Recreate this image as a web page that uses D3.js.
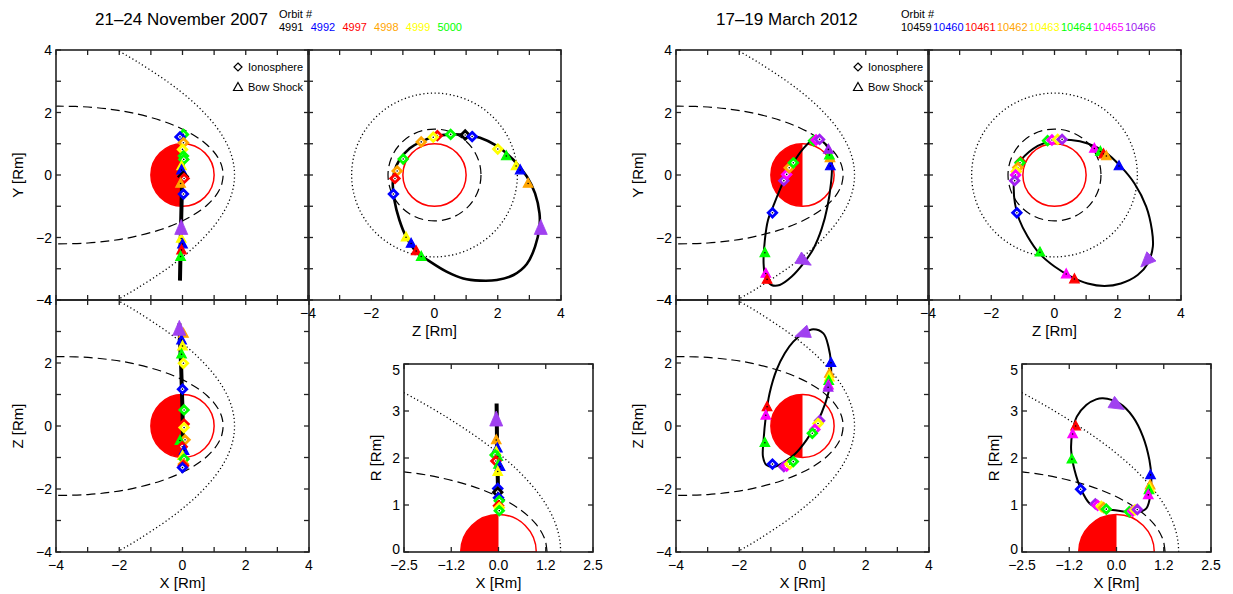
<!DOCTYPE html>
<html>
<head>
<meta charset="utf-8">
<script src="https://cdn.jsdelivr.net/npm/d3@7"></script>
<style>
  body { margin: 0; background: #fff; }
  text { font-family: "Liberation Sans", Arial, sans-serif; fill: #000; }
</style>
</head>
<body>
<svg id="chart" width="1233" height="594"></svg>
<script>
// colour codes used by the orbit legend and the crossing markers
var colorOf = { k: '#000000', b: '#0000ff', r: '#ff0000', o: '#ffa500', y: '#ffff00',
                g: '#00ff00', m: '#ff00ff', p: '#a020f0' };
var arrowColor = '#a040f0';

var titles = ['21\u201324 November 2007', '17\u201319 March 2012'];
var orbits2007 = ['4991', '4992', '4997', '4998', '4999', '5000'];
var orbitColors2007 = ['k', 'b', 'r', 'o', 'y', 'g'];
var orbits2012 = ['10459', '10460', '10461', '10462', '10463', '10464', '10465', '10466'];
var orbitColors2012 = ['k', 'b', 'r', 'o', 'y', 'g', 'm', 'p'];

// model boundaries, [x, rho] in Rm (dotted = bow shock, dashed = MPB)
var bowShock = [[1.645, 0], [1.628, 0.265], [1.574, 0.539], [1.475, 0.835], [1.313, 1.166],
  [1.057, 1.556], [0.640, 2.040], [0.209, 2.446], [-0.437, 2.960], [-1.463, 3.643],
  [-2.219, 4.084], [-2.590, 4.286]];
var mpb = [[1.285, 0], [1.247, 0.270], [1.195, 0.415], [1.111, 0.573], [0.982, 0.752],
  [0.780, 0.960], [0.583, 1.121], [0.306, 1.303], [-0.093, 1.512], [-0.684, 1.745],
  [-1.588, 1.987], [-2.212, 2.095], [-2.989, 2.176], [-3.941, 2.201], [-4.373, 2.187]];
// radius of each boundary in the terminator plane (YZ panels)
var bowShockTerminator = 2.62;
var mpbTerminator = 1.47;

var squareTicks = [-4, -3, -2, -1, 0, 1, 2, 3, 4];
var squareLabels = [-4, -2, 0, 2, 4];
var xrTicks = [-2.5, -1.25, 0, 1.25, 2.5];
var xrTickLabels = ['\u22122.5', '\u22121.2', '0.0', '1.2', '2.5'];
var rTicks = [0, 1.25, 2.5, 3.75, 5];
var rTickLabels = ['0', '1', '2', '3', '5'];

// ---- 21-24 November 2007 ----
var orbit2007XY = [[0.03, 1.28], [0.01, 0.6], [-0.02, -0.5], [-0.05, -1.8], [-0.08, -3.38]];
var orbit2007XZ = [[0.02, -1.40], [0.02, -0.8], [0.0, 0.5], [-0.04, 1.8], [-0.10, 3.26]];
var orbit2007XR = [[0.0, 1.07], [-0.02, 2.0], [-0.04, 3.0], [-0.05, 3.95]];
var orbit2007YZ = [[0.53, 1.30], [1.0, 1.28], [1.44, 1.19], [1.97, 0.93], [2.50, 0.48],
  [2.92, -0.05], [3.18, -0.59], [3.32, -1.23], [3.32, -1.65], [3.18, -2.29], [2.92, -2.85],
  [2.50, -3.20], [1.97, -3.36], [1.44, -3.38], [0.91, -3.31], [0.38, -3.09], [-0.14, -2.77],
  [-0.58, -2.45], [-0.90, -1.97], [-1.11, -1.44], [-1.27, -0.80], [-1.32, -0.27],
  [-1.27, 0.11], [-1.11, 0.48], [-0.79, 0.85], [-0.42, 1.07], [0.0, 1.23]];

// crossings: [colour, u, v, 'd' ionosphere | 't' bow shock]
var cross2007XY = [['g', 0.03, 1.30, 'd'], ['b', -0.08, 1.22, 'd'], ['o', 0.03, 1.03, 'd'],
  ['y', 0.0, 0.82, 'd'], ['g', 0.03, 0.61, 'd'], ['g', 0.04, 0.50, 'd'], ['y', -0.03, 0.29, 't'],
  ['b', -0.03, 0.16, 't'], ['k', 0.02, -0.05, 'd'], ['r', 0.05, -0.11, 'd'], ['o', -0.06, -0.27, 't'],
  ['b', 0.03, -0.61, 'd'], ['y', -0.04, -2.03, 't'], ['b', 0.0, -2.21, 't'], ['r', -0.03, -2.40, 't'],
  ['g', -0.06, -2.61, 't']];
var cross2007XZ = [['o', 0.03, 2.94, 't'], ['b', -0.03, 2.73, 't'], ['y', 0.0, 2.54, 't'],
  ['g', -0.03, 2.28, 't'], ['y', 0.03, 1.99, 'd'], ['b', 0.0, 1.17, 'd'], ['g', 0.05, 0.51, 'd'],
  ['r', 0.05, 0.06, 'd'], ['y', 0.05, -0.05, 'd'], ['o', 0.08, -0.44, 'd'], ['g', -0.08, -0.46, 't'],
  ['r', -0.01, -0.66, 'd'], ['b', 0.05, -0.78, 't'], ['y', 0.0, -0.94, 't'], ['g', 0.05, -1.05, 'd'],
  ['o', 0.03, -1.21, 'd'], ['r', 0.03, -1.26, 'd'], ['b', 0.0, -1.32, 'd']];
var cross2007YZ = [['k', 0.97, 1.28, 'd'], ['b', 1.19, 1.23, 'd'], ['g', 0.51, 1.30, 'd'],
  ['r', 0.09, 1.26, 'd'], ['y', -0.04, 1.21, 'd'], ['o', -0.42, 1.06, 'd'], ['g', -0.99, 0.51, 'd'],
  ['o', -1.18, 0.13, 'd'], ['r', -1.25, -0.11, 'd'], ['b', -1.30, -0.61, 'd'], ['y', 2.00, 0.83, 'd'],
  ['g', 2.27, 0.61, 't'], ['y', 2.58, 0.29, 't'], ['b', 2.71, 0.16, 't'], ['o', 2.96, -0.27, 't'],
  ['y', -0.90, -1.99, 't'], ['b', -0.74, -2.19, 't'], ['r', -0.58, -2.43, 't'], ['g', -0.42, -2.61, 't']];
var cross2007XR = [['o', -0.06, 2.98, 't'], ['b', -0.03, 2.76, 't'], ['y', -0.06, 2.67, 't'],
  ['g', -0.09, 2.58, 'd'], ['g', -0.02, 2.54, 't'], ['r', -0.07, 2.42, 'd'], ['g', 0.0, 2.33, 't'],
  ['b', 0.04, 2.27, 't'], ['y', -0.02, 2.14, 't'], ['b', -0.02, 1.69, 'd'], ['k', -0.02, 1.59, 'd'],
  ['b', 0.0, 1.44, 'd'], ['g', 0.02, 1.36, 'd'], ['r', 0.0, 1.23, 'd'], ['y', 0.02, 1.18, 'd'],
  ['g', 0.02, 1.10, 'd']];
// direction arrows: [u, v, angle in degrees, clockwise from up]
var arrow2007XY = [-0.04, -1.71, 0];
var arrow2007XZ = [-0.10, 3.07, 0];
var arrow2007YZ = [3.36, -1.71, 0];
var arrow2007XR = [-0.06, 3.51, 0];

// ---- 17-19 March 2012 ----
var orbit2012XY = [[0.45, 1.16], [0.72, 0.99], [0.88, 0.69], [0.93, 0.21], [0.90, -0.27],
  [0.79, -1.01], [0.61, -1.71], [0.35, -2.35], [0.03, -2.83], [-0.34, -3.25], [-0.72, -3.52],
  [-0.98, -3.52], [-1.16, -3.31], [-1.23, -2.83], [-1.19, -2.08], [-1.09, -1.44], [-0.93, -1.01],
  [-0.59, -0.18], [-0.29, 0.39], [0.03, 0.85], [0.29, 1.10]];
var orbit2012YZ = [[-1.06, 0.48], [-0.53, 0.93], [0.0, 1.12], [0.52, 1.12], [1.05, 1.01],
  [1.58, 0.75], [2.10, 0.27], [2.53, -0.27], [2.90, -1.01], [3.08, -1.76], [3.11, -2.29],
  [2.95, -2.83], [2.63, -3.20], [2.10, -3.47], [1.58, -3.55], [1.05, -3.47], [0.52, -3.25],
  [0.0, -2.93], [-0.48, -2.51], [-0.85, -1.97], [-1.11, -1.44], [-1.25, -0.91], [-1.29, -0.37],
  [-1.25, 0.05], [-1.15, 0.32]];
var orbit2012XZ = [[0.34, 3.07], [0.66, 2.94], [0.82, 2.52], [0.90, 1.99], [0.88, 1.36],
  [0.72, 0.72], [0.45, 0.09], [0.13, -0.44], [-0.24, -0.89], [-0.56, -1.13], [-0.88, -1.29],
  [-1.14, -1.24], [-1.25, -0.97], [-1.23, -0.44], [-1.16, 0.30], [-1.04, 1.04], [-0.82, 1.78],
  [-0.56, 2.31], [-0.29, 2.68], [0.03, 2.94]];
var orbit2012XR = [[-0.36, 4.09], [0.08, 3.95], [0.43, 3.60], [0.70, 3.07], [0.87, 2.45],
  [0.92, 2.0], [0.90, 1.56], [0.79, 1.16], [0.52, 1.05], [0.26, 1.07], [-0.10, 1.12],
  [-0.45, 1.16], [-0.71, 1.29], [-0.93, 1.65], [-1.11, 2.18], [-1.20, 2.71], [-1.17, 3.16],
  [-1.05, 3.60], [-0.80, 3.91], [-0.54, 4.06]];

var cross2012XY = [['p', -0.59, -0.18, 'd'], ['m', -0.50, 0.02, 'd'], ['o', -0.42, 0.23, 'd'],
  ['g', -0.29, 0.39, 'd'], ['b', -0.95, -1.21, 'd'], ['g', 0.35, 1.10, 'd'], ['m', 0.43, 1.12, 'd'],
  ['p', 0.54, 1.14, 'd'], ['b', 0.88, 0.29, 't'], ['o', 0.87, 0.55, 't'], ['g', 0.85, 0.64, 't'],
  ['p', 0.82, 0.82, 't'], ['g', -1.19, -2.49, 't'], ['m', -1.16, -3.15, 't'], ['r', -1.12, -3.34, 't']];
var cross2012YZ = [['g', -0.22, 1.10, 'd'], ['m', -0.08, 1.12, 'd'], ['y', 0.10, 1.14, 'd'],
  ['p', 0.24, 1.14, 'd'], ['r', -1.07, 0.42, 'd'], ['g', -1.09, 0.39, 'd'], ['o', -1.16, 0.24, 'd'],
  ['y', -1.21, 0.11, 'd'], ['m', -1.23, 0.0, 'd'], ['p', -1.26, -0.18, 'd'], ['b', -1.19, -1.21, 'd'],
  ['m', 1.26, 0.85, 't'], ['g', 1.45, 0.75, 't'], ['r', 1.55, 0.67, 't'], ['o', 1.64, 0.61, 't'],
  ['b', 2.04, 0.29, 't'], ['g', -0.46, -2.47, 't'], ['m', 0.37, -3.17, 't'], ['r', 0.63, -3.33, 't']];
var cross2012XZ = [['b', 0.90, 2.01, 't'], ['o', 0.85, 1.67, 't'], ['y', 0.85, 1.55, 't'],
  ['g', 0.83, 1.44, 't'], ['m', 0.82, 1.30, 't'], ['p', 0.81, 1.23, 't'], ['r', -1.12, 0.61, 't'],
  ['m', -1.16, 0.34, 't'], ['g', -1.19, -0.53, 't'], ['b', -0.95, -1.21, 'd'], ['p', -0.59, -1.29, 'd'],
  ['m', -0.50, -1.27, 'd'], ['y', -0.40, -1.21, 'd'], ['g', -0.29, -1.13, 'd'], ['p', 0.54, 0.17, 'd'],
  ['y', 0.49, 0.08, 'd'], ['m', 0.39, -0.11, 'd'], ['g', 0.31, -0.23, 'd']];
var cross2012XR = [['r', -1.08, 3.35, 't'], ['m', -1.16, 3.14, 't'], ['g', -1.18, 2.47, 't'],
  ['b', -0.95, 1.67, 'd'], ['p', -0.56, 1.28, 'd'], ['m', -0.50, 1.24, 'd'], ['y', -0.40, 1.21, 'd'],
  ['o', -0.34, 1.18, 'd'], ['g', -0.27, 1.14, 'd'], ['g', 0.34, 1.07, 'd'], ['m', 0.43, 1.09, 'd'],
  ['y', 0.49, 1.12, 'd'], ['p', 0.55, 1.13, 'd'], ['b', 0.90, 2.05, 't'], ['o', 0.89, 1.78, 't'],
  ['y', 0.88, 1.70, 't'], ['g', 0.86, 1.65, 't'], ['m', 0.84, 1.52, 't']];
var arrow2012XY = [0.03, -2.74, 120];
var arrow2012YZ = [2.93, -2.74, 225];
var arrow2012XZ = [0.03, 2.94, 250];
var arrow2012XR = [0.0, 3.91, 120];

var svg = d3.select('#chart');
var clipCount = 0;

function makePanel(left, top, w, h, xd, yd) {
  var id = 'clip' + (clipCount++);
  svg.append('clipPath').attr('id', id).append('rect')
    .attr('x', left).attr('y', top).attr('width', w).attr('height', h);
  var g = svg.append('g');
  return {
    g: g,
    inner: g.append('g').attr('clip-path', 'url(#' + id + ')'),
    x: d3.scaleLinear().domain(xd).range([left, left + w]),
    y: d3.scaleLinear().domain(yd).range([top + h, top]),
    left: left, top: top, w: w, h: h
  };
}

function frame(p, xt, yt) {
  var t = 5;
  var g = p.g.append('g').attr('stroke', '#222').attr('stroke-width', 1.3);
  xt.forEach(function(v) {
    var xx = p.x(v);
    g.append('line').attr('x1', xx).attr('x2', xx).attr('y1', p.top).attr('y2', p.top + t);
    g.append('line').attr('x1', xx).attr('x2', xx).attr('y1', p.top + p.h).attr('y2', p.top + p.h - t);
  });
  yt.forEach(function(v) {
    var yy = p.y(v);
    g.append('line').attr('y1', yy).attr('y2', yy).attr('x1', p.left).attr('x2', p.left + t);
    g.append('line').attr('y1', yy).attr('y2', yy).attr('x1', p.left + p.w).attr('x2', p.left + p.w - t);
  });
  g.append('rect').attr('x', p.left).attr('y', p.top).attr('width', p.w).attr('height', p.h)
    .attr('fill', 'none').attr('stroke-width', 1.6);
}

function fmt(v) { return v < 0 ? '\u2212' + Math.abs(v) : String(v); }

function xLabels(p, vals, labels, title) {
  vals.forEach(function(v, i) {
    p.g.append('text').attr('x', p.x(v)).attr('y', p.top + p.h + 18)
      .attr('text-anchor', 'middle').attr('font-size', 14).text(labels ? labels[i] : fmt(v));
  });
  p.g.append('text').attr('x', p.left + p.w / 2).attr('y', p.top + p.h + 36)
    .attr('text-anchor', 'middle').attr('font-size', 15).text(title);
}

function yLabels(p, vals, labels, clamp) {
  vals.forEach(function(v, i) {
    var yy = p.y(v) + 5;
    if (clamp) yy = Math.max(Math.min(yy, p.top + p.h + 2), p.top + 11);
    p.g.append('text').attr('x', p.left - 4).attr('y', yy)
      .attr('text-anchor', 'end').attr('font-size', 14).text(labels ? labels[i] : fmt(v));
  });
}

function yTitle(x, y, title) {
  svg.append('text').attr('transform', 'translate(' + x + ',' + y + ') rotate(-90)')
    .attr('text-anchor', 'middle').attr('font-size', 15).text(title);
}

function dashStyle(sel, dash) {
  return sel.attr('fill', 'none').attr('stroke', '#000')
    .attr('stroke-width', dash === 'dot' ? 1.3 : 1.2)
    .attr('stroke-dasharray', dash === 'dot' ? '1.2,2.6' : '9,5');
}

function boundary(p, pts, dash, mirror) {
  var full = mirror ? pts.slice().reverse().map(function(d) { return [d[0], -d[1]]; }).concat(pts.slice(1)) : pts;
  dashStyle(p.inner.append('path')
    .attr('d', d3.line().x(function(d) { return p.x(d[0]); }).y(function(d) { return p.y(d[1]); })
      .curve(d3.curveCatmullRom)(full)), dash);
}

function ring(p, r, dash) {
  dashStyle(p.inner.append('ellipse').attr('cx', p.x(0)).attr('cy', p.y(0))
    .attr('rx', p.x(r) - p.x(0)).attr('ry', p.y(0) - p.y(r)), dash);
}

function mars(p, half) {
  var cx = p.x(0), cy = p.y(0), rx = p.x(1) - cx, ry = cy - p.y(1);
  if (half) {
    p.inner.append('path')
      .attr('d', 'M' + cx + ',' + cy + 'L' + cx + ',' + (cy - ry) + 'A' + rx + ',' + ry + ' 0 0 0 ' + (cx - rx) + ',' + cy + 'Z')
      .attr('fill', '#ff0000');
    p.inner.append('path')
      .attr('d', 'M' + (cx - rx) + ',' + cy + 'A' + rx + ',' + ry + ' 0 0 1 ' + (cx + rx) + ',' + cy + 'Z')
      .attr('fill', 'none').attr('stroke', '#ff0000').attr('stroke-width', 1.5);
    return;
  }
  p.inner.append('path')
    .attr('d', 'M' + cx + ',' + (cy - ry) + 'A' + rx + ',' + ry + ' 0 0 0 ' + cx + ',' + (cy + ry) + 'Z')
    .attr('fill', '#ff0000');
  p.inner.append('ellipse').attr('cx', cx).attr('cy', cy).attr('rx', rx).attr('ry', ry)
    .attr('fill', 'none').attr('stroke', '#ff0000').attr('stroke-width', 1.5);
}

function orbit(p, pts, closed, width) {
  p.inner.append('path')
    .attr('d', d3.line().x(function(d) { return p.x(d[0]); }).y(function(d) { return p.y(d[1]); })
      .curve(closed ? d3.curveCatmullRomClosed : d3.curveLinear)(pts))
    .attr('fill', 'none').attr('stroke', '#000').attr('stroke-width', width)
    .attr('stroke-linejoin', 'round');
}

var diamondPath = 'M0,-4.2L4.2,0L0,4.2L-4.2,0Z';
var trianglePath = 'M0,-5.2L4.8,3.8L-4.8,3.8Z';

function crossings(p, list) {
  list.forEach(function(m) {
    var c = colorOf[m[0]];
    var g = p.g.append('g').attr('transform', 'translate(' + p.x(m[1]) + ',' + p.y(m[2]) + ')');
    if (m[3] === 'd') {
      g.append('path').attr('d', diamondPath).attr('fill', '#fff').attr('stroke', c).attr('stroke-width', 2.8);
    } else {
      g.append('path').attr('d', trianglePath).attr('fill', c).attr('stroke', c).attr('stroke-width', 1.2);
    }
    g.append('circle').attr('r', 0.8).attr('fill', '#000');
  });
}

function arrow(p, a) {
  p.g.append('path').attr('d', 'M0,-9L6.5,6L-6.5,6Z')
    .attr('transform', 'translate(' + p.x(a[0]) + ',' + p.y(a[1]) + ') rotate(' + a[2] + ')')
    .attr('fill', arrowColor).attr('stroke', arrowColor).attr('stroke-width', 0.8);
}

function legend(p) {
  var lx = p.left + 182;
  p.g.append('path').attr('d', 'M0,-4L4,0L0,4L-4,0Z').attr('transform', 'translate(' + lx + ',67)')
    .attr('fill', '#fff').attr('stroke', '#000').attr('stroke-width', 1.2);
  p.g.append('path').attr('d', 'M0,-4.5L4.5,3.5L-4.5,3.5Z').attr('transform', 'translate(' + lx + ',87)')
    .attr('fill', '#fff').attr('stroke', '#000').attr('stroke-width', 1.2);
  p.g.append('text').attr('x', lx + 10).attr('y', 71).attr('font-size', 11).text('Ionosphere');
  p.g.append('text').attr('x', lx + 10).attr('y', 91).attr('font-size', 11).text('Bow Shock');
}

function drawFigure(f) {
  var xy = makePanel(f.xyLeft, 50, 253, 250, [-4, 4], [-4, 4]);
  var yz = makePanel(f.xyLeft + 252, 50, 253, 250, [-4, 4], [-4, 4]);
  var xz = makePanel(f.xyLeft, 300, 253, 252, [-4, 4], [-4, 4]);
  var xr = makePanel(f.xrLeft, 364, 189, 188, [-2.5, 2.5], [0, 5]);

  [xy, yz, xz].forEach(function(p) { frame(p, squareTicks, squareTicks); });
  frame(xr, xrTicks, rTicks);

  yLabels(xy, squareLabels);
  yLabels(xz, squareLabels);
  xLabels(xz, squareLabels, null, 'X [Rm]');
  xLabels(yz, squareLabels, null, 'Z [Rm]');
  yLabels(xr, rTicks, rTickLabels, true);
  xLabels(xr, xrTicks, xrTickLabels, 'X [Rm]');
  yTitle(f.xyLeft - 33, 175, 'Y [Rm]');
  yTitle(f.xyLeft - 33, 426, 'Z [Rm]');
  yTitle(f.xrLeft - 23, 458, 'R [Rm]');

  [xy, xz].forEach(function(p) {
    mars(p, false);
    boundary(p, bowShock, 'dot', true);
    boundary(p, mpb, 'dash', true);
  });
  mars(xr, true);
  boundary(xr, bowShock, 'dot', false);
  boundary(xr, mpb, 'dash', false);
  yz.inner.append('ellipse').attr('cx', yz.x(0)).attr('cy', yz.y(0))
    .attr('rx', yz.x(1) - yz.x(0)).attr('ry', yz.y(0) - yz.y(1))
    .attr('fill', 'none').attr('stroke', '#ff0000').attr('stroke-width', 1.5);
  ring(yz, bowShockTerminator, 'dot');
  ring(yz, mpbTerminator, 'dash');

  orbit(xy, f.orbitXY, f.closed, f.lineW);
  orbit(xz, f.orbitXZ, f.closed, f.lineW);
  orbit(yz, f.orbitYZ, true, f.loopW);
  orbit(xr, f.orbitXR, f.closed, f.lineW);

  crossings(xy, f.crossXY);
  crossings(xz, f.crossXZ);
  crossings(yz, f.crossYZ);
  crossings(xr, f.crossXR);
  arrow(xy, f.arrowXY);
  arrow(xz, f.arrowXZ);
  arrow(yz, f.arrowYZ);
  arrow(xr, f.arrowXR);

  legend(xy);

  // title and orbit legend
  svg.append('text').attr('x', f.titleX).attr('y', 25).attr('font-size', 17).text(f.title);
  svg.append('text').attr('x', f.legendX).attr('y', 18).attr('font-size', 11).text('Orbit #');
  f.orbits.forEach(function(o, i) {
    svg.append('text').attr('x', f.legendX + i * f.legendStep).attr('y', 31).attr('font-size', 11)
      .style('fill', colorOf[f.orbitColors[i]]).text(o);
  });
}

drawFigure({
  xyLeft: 56, xrLeft: 404, closed: false, lineW: 4, loopW: 2.6,
  title: titles[0], titleX: 95, legendX: 279, legendStep: 31.7,
  orbits: orbits2007, orbitColors: orbitColors2007,
  orbitXY: orbit2007XY, orbitXZ: orbit2007XZ, orbitYZ: orbit2007YZ, orbitXR: orbit2007XR,
  crossXY: cross2007XY, crossXZ: cross2007XZ, crossYZ: cross2007YZ, crossXR: cross2007XR,
  arrowXY: arrow2007XY, arrowXZ: arrow2007XZ, arrowYZ: arrow2007YZ, arrowXR: arrow2007XR
});

drawFigure({
  xyLeft: 676, xrLeft: 1022, closed: true, lineW: 2, loopW: 2,
  title: titles[1], titleX: 716, legendX: 901, legendStep: 32,
  orbits: orbits2012, orbitColors: orbitColors2012,
  orbitXY: orbit2012XY, orbitXZ: orbit2012XZ, orbitYZ: orbit2012YZ, orbitXR: orbit2012XR,
  crossXY: cross2012XY, crossXZ: cross2012XZ, crossYZ: cross2012YZ, crossXR: cross2012XR,
  arrowXY: arrow2012XY, arrowXZ: arrow2012XZ, arrowYZ: arrow2012YZ, arrowXR: arrow2012XR
});
</script>
</body>
</html>
